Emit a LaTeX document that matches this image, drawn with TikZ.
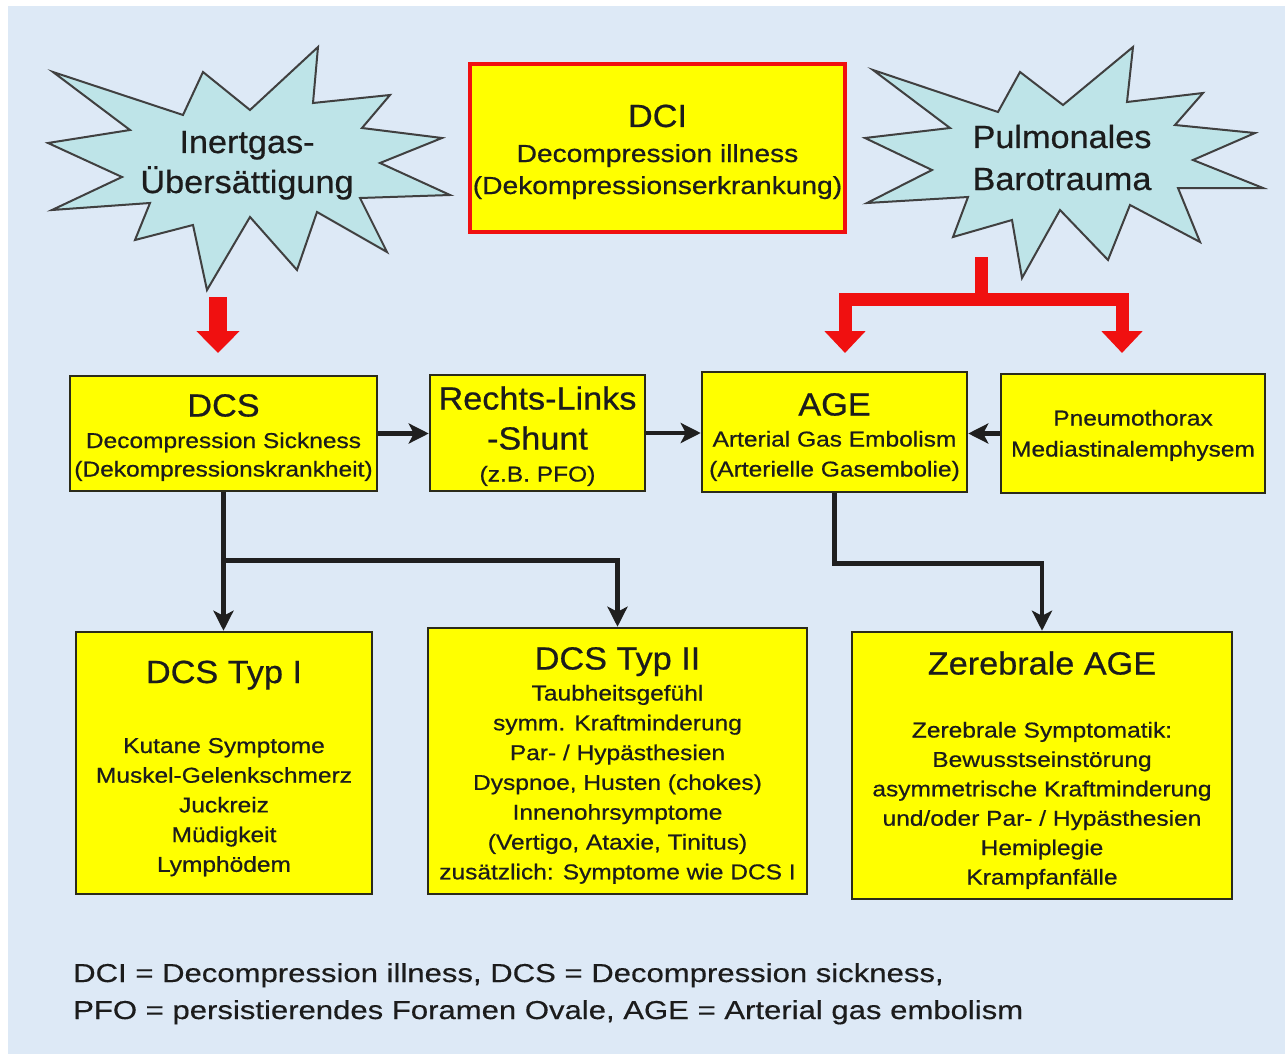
\documentclass[tikz,border=0pt]{standalone}
\usepackage{fontspec}
\setmainfont{Liberation Sans}
\newfontfamily\fT{Liberation Sans}[FakeStretch=1.07,FakeBold=0.6]
\newfontfamily\fS{Liberation Sans}[FakeStretch=1.14,FakeBold=0.6]
\newfontfamily\fF{Liberation Sans}[FakeStretch=1.2,FakeBold=0.4]
\usetikzlibrary{arrows.meta}
\definecolor{bgc}{HTML}{DDE9F6}
\definecolor{starc}{HTML}{BEE4E8}
\definecolor{boxyel}{HTML}{FFFF00}
\definecolor{boxline}{HTML}{2B2B1A}
\definecolor{redc}{HTML}{F01010}
\definecolor{txt}{HTML}{1C1C1C}
\begin{document}
\begin{tikzpicture}[x=1pt,y=-1pt,
  box/.style={draw=boxline, line width=2.5pt, fill=boxyel, inner sep=0pt},
  ttl/.style={anchor=base, inner sep=0pt, text=txt, font=\fT\fontsize{32}{38}\selectfont},
  sub/.style={anchor=base, inner sep=0pt, text=txt, font=\fS\fontsize{21.5}{26}\selectfont},
  dsub/.style={anchor=base, inner sep=0pt, text=txt, font=\fS\fontsize{24.7}{30}\selectfont},
  foot/.style={anchor=base west, inner sep=0pt, text=txt, font=\fF\fontsize{25.9}{31}\selectfont},
  conn/.style={draw=black!88, line width=4.5pt, -{Stealth[length=20pt,width=20pt,inset=5pt]}},
  redarrow/.style={draw=redc, line width=18pt, -{Triangle[length=22pt,width=42pt]}},
  redbr/.style={draw=redc, line width=13pt, line join=miter, -{Triangle[length=22pt,width=40pt]}},
  starshape/.style={fill=starc, draw=black!75, line width=2pt, line join=miter}]
\useasboundingbox (0,0) rectangle (1285,1054);
\fill[white] (0,0) rectangle (1285,1054);
\fill[bgc] (8,6) rectangle (1285,1054);

% stars
\path[starshape] (53,72) -- (183,115) -- (203,72) -- (250,110) -- (318,47) -- (313,103)
  -- (390,95) -- (362,128) -- (442,138) -- (380,163) -- (450,195) -- (360,198)
  -- (387,252) -- (317,212) -- (297,270) -- (250,217) -- (207,290) -- (193,225)
  -- (135,240) -- (150,203) -- (52,210) -- (122,177) -- (48,143) -- (130,130) -- cycle;
\path[starshape] (873,70) -- (998,112) -- (1020,72) -- (1063,105) -- (1133,47) -- (1127,102)
  -- (1203,93) -- (1175,125) -- (1255,133) -- (1193,160) -- (1263,188) -- (1178,188)
  -- (1200,242) -- (1130,205) -- (1108,260) -- (1060,210) -- (1022,278) -- (1012,220)
  -- (953,237) -- (968,197) -- (867,203) -- (932,170) -- (865,138) -- (950,128) -- cycle;
\node[ttl] (st1a) at (247,153) {Inertgas-};
\node[ttl] (st1b) at (247,193) {Übersättigung};
\node[ttl] (st2a) at (1062,148) {Pulmonales};
\node[ttl] (st2b) at (1062,190) {Barotrauma};

% boxes
\node[box, draw=redc, line width=4pt, minimum width=375pt, minimum height=168pt] (dci) at (657.5,148) {};
\node[box, minimum width=307pt, minimum height=115pt] (dcs) at (223.5,433.5) {};
\node[box, minimum width=215pt, minimum height=116pt] (rl) at (537.5,433) {};
\node[box, minimum width=265pt, minimum height=120pt] (age) at (834.5,432) {};
\node[box, minimum width=264pt, minimum height=119pt] (pn) at (1133,433.5) {};
\node[box, minimum width=296pt, minimum height=262pt] (t1) at (224,763) {};
\node[box, minimum width=379pt, minimum height=266pt] (t2) at (617.5,761) {};
\node[box, minimum width=380pt, minimum height=267pt] (ze) at (1042,765.5) {};

% texts
\node[ttl] (dcit) at (657.5,127) {DCI};
\node[dsub] (dci1) at (657.5,162) {Decompression illness};
\node[dsub] (dci2) at (657.5,194) {(Dekompressionserkrankung)};

\node[ttl] (dcst) at (223.5,416.5) {DCS};
\node[sub] (dcs1) at (223.5,448) {Decompression Sickness};
\node[sub] (dcs2) at (223.5,476.5) {(Dekompressionskrankheit)};

\node[ttl] (rlt) at (537.5,409.5) {Rechts-Links};
\node[ttl] (rl1) at (537.5,449.5) {-Shunt};
\node[sub] (rl2) at (537.5,481.5) {(z.B. PFO)};

\node[ttl] (aget) at (834.5,415.5) {AGE};
\node[sub] (age1) at (834.5,446.5) {Arterial Gas Embolism};
\node[sub] (age2) at (834.5,476.5) {(Arterielle Gasembolie)};

\node[sub] (pn1) at (1133,425.5) {Pneumothorax};
\node[sub] (pn2) at (1133,456.5) {Mediastinalemphysem};

\node[ttl] (t1t) at (224,683) {DCS Typ I};
\foreach \t [count=\i] in {Kutane Symptome, Muskel-Gelenkschmerz, Juckreiz, Müdigkeit, Lymphödem}
  {\node[sub] (ta\i) at (224,{753+29.7*(\i-1)}) {\t};}

\node[ttl] (t2t) at (617.5,669.5) {DCS Typ II};
\foreach \t [count=\i] in {Taubheitsgefühl, symm. Kraftminderung, Par- / Hypästhesien,
  {Dyspnoe, Husten (chokes)}, Innenohrsymptome, {(Vertigo, Ataxie, Tinitus)},
  zusätzlich: Symptome wie DCS I}
  {\node[sub] (tb\i) at (617.5,{700.5+29.8*(\i-1)}) {\t};}

\node[ttl] (zet) at (1042,674.5) {Zerebrale AGE};
\foreach \t [count=\i] in {Zerebrale Symptomatik:, Bewusstseinstörung, asymmetrische Kraftminderung,
  und/oder Par- / Hypästhesien, Hemiplegie, Krampfanfälle}
  {\node[sub] (tc\i) at (1042,{737.5+29.4*(\i-1)}) {\t};}

\node[foot] (f1) at (73,982) {DCI = Decompression illness, DCS = Decompression sickness,};
\node[foot] (f2) at (73,1019) {PFO = persistierendes Foramen Ovale, AGE = Arterial gas embolism};

% black connectors
\draw[conn] (dcs.east) -- (dcs.east -| rl.west);
\draw[conn] (rl.east) -- (rl.east -| age.west);
\draw[conn] (pn.west) -- (pn.west -| age.east);
\draw[conn] (dcs.south) -- (dcs.south |- t1.north);
\draw[conn] (dcs.south) -- ++(0,68) -| (t2.north);
\draw[conn] (age.south) -- ++(0,70) -| (ze.north);

% red arrows
\coordinate (r1s) at (218,297);
\coordinate (r1e) at (218,353);
\draw[redarrow] (r1s) -- (r1e);
\coordinate (r2s) at (981,257);
\coordinate (r2j) at (981,299);
\coordinate (r2a) at (845,353);
\coordinate (r2b) at (1122,353);
\draw[redc, line width=13pt] (r2s) -- (r2j);
\draw[redbr] (r2j) -| (r2a);
\draw[redbr] (r2j) -| (r2b);
\end{tikzpicture}
\end{document}
